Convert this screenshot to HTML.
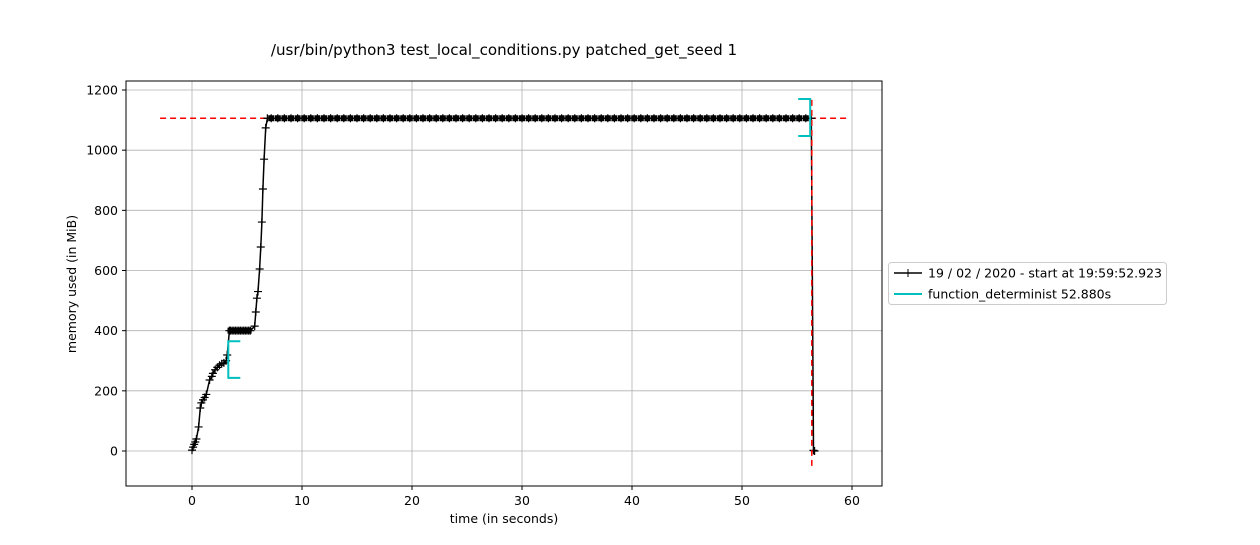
<!DOCTYPE html>
<html><head><meta charset="utf-8"><style>
body{margin:0;background:#fff}
svg{font-family:"DejaVu Sans","Liberation Sans",sans-serif}
</style></head><body>
<svg id="c" width="1260" height="540" xmlns="http://www.w3.org/2000/svg">
<rect width="1260" height="540" fill="#fff"/>
<text x="504" y="55" text-anchor="middle" font-size="15.1">/usr/bin/python3 test_local_conditions.py patched_get_seed 1</text>
<g id="grid"></g>
<g id="plot"></g>
<rect x="126" y="81" width="756" height="405" fill="none" stroke="#000" stroke-width="1"/>
<g id="ticks"></g>
<text x="504" y="523" text-anchor="middle" font-size="12.5">time (in seconds)</text>
<text transform="translate(76,284) rotate(-90)" text-anchor="middle" font-size="12.5">memory used (in MiB)</text>
<g>
<rect x="888.5" y="262.5" width="278" height="42" rx="3" fill="#fff" stroke="#ccc"/>
<g>
<line x1="894" y1="273" x2="922" y2="273" stroke="#000" stroke-width="1.5"/>
<path d="M904 273h8M908 269v8" stroke="#000"/>
<text x="928" y="277.5" font-size="12.5">19 / 02 / 2020 - start at 19:59:52.923</text></g>
<g>
<line x1="894" y1="294" x2="922" y2="294" stroke="#00bfbf" stroke-width="2"/>
<text x="928" y="298.5" font-size="12.5">function_determinist 52.880s</text></g>
</g>
</svg>
<script>
const xTicks=[0,10,20,30,40,50,60];
const yTicks=[0,200,400,600,800,1000,1200];
const times=[0,0.1,0.2,0.3,0.4,0.6,0.75,0.85,1.0,1.15,1.3,1.6,1.8,1.9,2.1,2.3,2.5,2.7,2.9,3.1,3.2,3.4,3.5,3.65,3.8,3.95,4.1,4.25,4.4,4.55,4.7,4.85,5.0,5.15,5.3,5.7,5.8,5.9,6.0,6.15,6.25,6.35,6.45,6.55,6.7,6.85,
7.2,7.8,8.4,9.0,9.6,10.2,10.8,11.4,12.0,12.6,13.2,13.8,14.4,15.0,15.6,16.2,16.8,17.4,18.0,18.6,19.2,19.8,20.4,21.0,21.6,22.2,22.8,23.4,24.0,24.6,25.2,25.8,26.4,27.0,27.6,28.2,28.8,29.4,30.0,30.6,31.2,31.8,32.4,33.0,33.6,34.2,34.8,35.4,36.0,36.6,37.2,37.8,38.4,39.0,39.6,40.2,40.8,41.4,42.0,42.6,43.2,43.8,44.4,45.0,45.6,46.2,46.8,47.4,48.0,48.6,49.2,49.8,50.4,51.0,51.6,52.2,52.8,53.4,54.0,54.6,55.2,55.8,56.3,56.5,56.6];
const memory=[3,13,22,30,40,80,143,160,170,178,188,236,248,258,270,278,285,290,293,300,319,400,400,400,400,400,400,400,400,400,400,400,400,400,400,415,462,508,530,605,678,761,871,970,1074,1106,
1106,1106,1106,1106,1106,1106,1106,1106,1106,1106,1106,1106,1106,1106,1106,1106,1106,1106,1106,1106,1106,1106,1106,1106,1106,1106,1106,1106,1106,1106,1106,1106,1106,1106,1106,1106,1106,1106,1106,1106,1106,1106,1106,1106,1106,1106,1106,1106,1106,1106,1106,1106,1106,1106,1106,1106,1106,1106,1106,1106,1106,1106,1106,1106,1106,1106,1106,1106,1106,1106,1106,1106,1106,1106,1106,1106,1106,1106,1106,1106,1106,1106,1106,2,0];
const maxMem=1106, maxTime=56.3;
const funcStart=[3.3,243,365], funcEnd=[56.2,1047,1170];
const X=t=>192+t*11, Y=m=>451-m*0.30083;
const NS="http://www.w3.org/2000/svg";
function mk(tag,attrs,parent){const e=document.createElementNS(NS,tag);for(const k in attrs)e.setAttribute(k,attrs[k]);parent.appendChild(e);return e;}
const grid=document.getElementById('grid'),ticks=document.getElementById('ticks'),plot=document.getElementById('plot');
xTicks.forEach(v=>{const x=X(v);
 const g=mk('line',{x1:x,x2:x,y1:81,y2:486,stroke:'#b0b0b0','stroke-width':0.8},grid);
 
 
 mk('line',{x1:x,x2:x,y1:486,y2:490,stroke:'#000'},ticks);
 const t=mk('text',{x:x,y:505,'text-anchor':'middle','font-size':12.5},ticks);t.textContent=v;
 
 });
yTicks.forEach(v=>{const y=Y(v);
 const g=mk('line',{x1:126,x2:882,y1:y,y2:y,stroke:'#b0b0b0','stroke-width':0.8},grid);
 
 
 mk('line',{x1:122,x2:126,y1:y,y2:y,stroke:'#000'},ticks);
 const t=mk('text',{x:118,y:y+4.5,'text-anchor':'end','font-size':12.5},ticks);t.textContent=v;
 
 });
const hl=mk('line',{x1:X(-2.9),x2:X(59.6),y1:Y(maxMem),y2:Y(maxMem),stroke:'#f00','stroke-width':1.5,'stroke-dasharray':'6,4'},plot);


let d='';times.forEach((t,i)=>{d+=(i?'L':'M')+X(t).toFixed(1)+' '+Y(memory[i]).toFixed(1);});
const ln=mk('path',{d:d,fill:'none',stroke:'#000','stroke-width':1.5},plot);


let md='',bd='';times.forEach((t,i)=>{const x=X(t),y=Y(memory[i]);md+=`M${x-4} ${y}h8M${x} ${y-4}v8`;
 if(i>0&&i<times.length-1&&memory[i]===memory[i-1]&&memory[i]===memory[i+1])bd+=`M${x-3} ${y-3}h6v6h-6z`;});
const mp=mk('path',{d:md,stroke:'#000','stroke-width':1.2},plot);


const bp=mk('path',{d:bd,fill:'#000'},plot);


const vl=mk('line',{x1:X(maxTime)+0.5,x2:X(maxTime)+0.5,y1:Y(1167),y2:Y(-53),stroke:'#f00','stroke-width':1.5,'stroke-dasharray':'6,4'},plot);


const b1=mk('path',{d:`M${X(funcStart[0])+12} ${Y(funcStart[2])}H${X(funcStart[0])}V${Y(funcStart[1])}H${X(funcStart[0])+12}`,fill:'none',stroke:'#00bfbf','stroke-width':2},plot);


const b2=mk('path',{d:`M${X(funcEnd[0])-12} ${Y(funcEnd[2])}H${X(funcEnd[0])}V${Y(funcEnd[1])}H${X(funcEnd[0])-12}`,fill:'none',stroke:'#00bfbf','stroke-width':2},plot);


</script>
</body></html>
